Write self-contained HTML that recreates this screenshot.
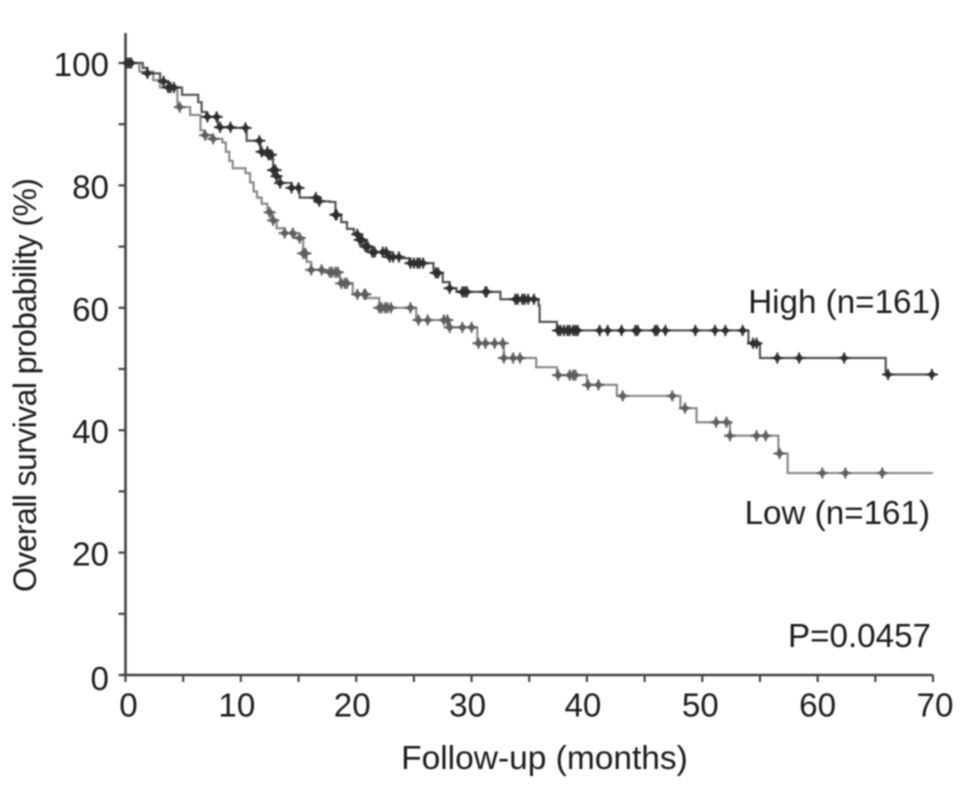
<!DOCTYPE html>
<html>
<head>
<meta charset="utf-8">
<style>
html,body{margin:0;padding:0;background:#fff;width:969px;height:788px;overflow:hidden}
svg{display:block;filter:blur(0.9px)}
text{font-family:"Liberation Sans",sans-serif;font-size:33.2px;fill:#1c1c1c}
</style>
</head>
<body>
<svg id="chart" width="969" height="788" viewBox="0 0 969 788" xmlns="http://www.w3.org/2000/svg">
<rect width="969" height="788" fill="#fff"/>
<g id="axes"></g>
<g id="series"></g>
<text transform="rotate(-90 36 385)" x="36" y="385" text-anchor="middle" textLength="414" style="font-size:32px">Overall survival probability (%)</text>
<text x="544.5" y="769" text-anchor="middle" style="font-size:33.5px">Follow-up (months)</text>
<text x="941" y="313" text-anchor="end">High (n=161)</text>
<text x="930" y="524" text-anchor="end">Low (n=161)</text>
<text x="931" y="647" text-anchor="end">P=0.0457</text>
</svg>
<script>
const xTickLabels = [0, 10, 20, 30, 40, 50, 60, 70];
const yTickLabels = [0, 20, 40, 60, 80, 100];
const xMinorTicks = [5, 15, 25, 35, 45, 55, 65];
const yMinorTicks = [10, 30, 50, 70, 90];

const highTimes = [0, 1.5, 1.9, 3.0, 3.7, 4.9, 6.3, 6.6, 7.0, 8.0, 9.2, 10.5, 11.7, 12.4, 12.8, 13.1, 13.4, 14.4, 15.1, 16.7, 17.7, 18.2, 18.7, 19.2, 19.8, 20.3, 20.8, 21.4, 22.9, 23.8, 24.6, 26.7, 27.5, 28.1, 28.7, 32.5, 35.8, 35.9, 37.4, 54.0, 54.8, 55.0, 65.9];
const highSurvival = [100, 99.2, 98.3, 97, 96, 94.8, 93.6, 92, 91.2, 89.5, 89.4, 87.3, 85.5, 85, 82.5, 81.5, 80.4, 79.6, 78, 77.4, 77.3, 75.2, 74, 72.9, 72, 71.1, 70, 69.1, 68.3, 68.1, 67.3, 65.7, 64.2, 63.2, 62.6, 61.4, 60.4, 57.7, 56.3, 54.2, 53.9, 51.8, 49.1];
const highCensored = [0.1, 0.3, 0.5, 1.9, 3.3, 3.7, 3.9, 4.2, 7.1, 7.9, 8.2, 9.1, 10.4, 11.6, 11.8, 12.3, 12.4, 12.6, 12.8, 13, 13.1, 13.4, 14.4, 15, 16.5, 16.8, 18.2, 18.3, 20.1, 20.3, 20.5, 20.8, 21, 21.4, 21.6, 22.3, 22.6, 22.9, 23.2, 23.7, 24.7, 25, 25.3, 25.5, 25.8, 26.9, 27.1, 28.1, 29.2, 29.4, 29.6, 31.2, 31.3, 33.8, 34, 34.4, 34.6, 34.9, 35.4, 37.5, 37.7, 38, 38.3, 38.5, 38.8, 39, 39.2, 41.1, 41.8, 43, 44.2, 44.4, 45.9, 46.1, 46.8, 49.4, 51.1, 52, 53.5, 54.4, 54.7, 56.5, 58.4, 62.3, 66.1, 69.9];

const lowTimes = [0, 1.2, 2.4, 3.0, 4.5, 5.6, 6.5, 6.8, 7.6, 8.4, 8.7, 9.0, 9.3, 10.4, 10.8, 11.1, 11.4, 11.8, 12.3, 12.7, 13.1, 13.8, 14.7, 15.4, 15.7, 16.1, 17.1, 18.6, 19.7, 20.9, 22, 25.2, 28.1, 30.5, 32.8, 35.6, 37.4, 40, 42.6, 48.1, 49.5, 52.4, 56.6, 57.4];
const lowSurvival = [100, 98.6, 97.2, 96, 92.8, 91.5, 89, 88.2, 87.6, 87, 85.5, 84, 82.8, 82, 80.5, 79, 78, 77, 75.6, 74.3, 73, 72.2, 71.4, 68.9, 67.5, 66.2, 65.8, 64, 62.2, 61.6, 60, 58, 56.8, 54.2, 51.8, 50.3, 49, 47.4, 45.6, 43.6, 41.3, 39.1, 36.2, 33];
const lowCensored = [4.7, 6.9, 7.6, 12.5, 12.8, 13.8, 14.5, 15.1, 15.4, 15.6, 16.1, 17, 17.7, 17.9, 18.2, 18.4, 18.7, 19, 19.2, 20.1, 20.7, 20.8, 22, 22.2, 22.5, 22.7, 23, 24.7, 25.4, 26.2, 27.6, 27.9, 28.1, 29.2, 30, 30.6, 31.2, 32, 32.7, 32.8, 33.6, 34.2, 37.5, 38.5, 38.8, 39, 40.1, 41, 43.1, 47.4, 48.5, 51.2, 52.1, 52.4, 54.7, 55.5, 56.7, 60.4, 62.4, 65.6];

const NS = 'http://www.w3.org/2000/svg';
const X0 = 125.5, X1 = 933, Y0 = 675, Y100 = 63;
const xScale = t => X0 + (t / 70) * (X1 - X0);
const yScale = s => Y0 - (s / 100) * (Y0 - Y100);
const axes = document.getElementById('axes');
const series = document.getElementById('series');

function survivalAt(times, values, t) {
  let v = values[0];
  for (let i = 0; i < times.length; i++) { if (times[i] <= t) v = values[i]; }
  return v;
}
function line(x1, y1, x2, y2, w) {
  const l = document.createElementNS(NS, 'line');
  l.setAttribute('x1', x1); l.setAttribute('y1', y1);
  l.setAttribute('x2', x2); l.setAttribute('y2', y2);
  l.setAttribute('stroke', '#444');
  l.setAttribute('stroke-width', w);
  return l;
}

const yAxisLine = line(X0, 33, X0, Y0 + 1, 2.6);


axes.appendChild(yAxisLine);
const xAxisLine = line(X0 - 4, Y0, X1, Y0, 2.6);


axes.appendChild(xAxisLine);

xTickLabels.concat(xMinorTicks).forEach(v => {
  const t = line(xScale(v), Y0, xScale(v), Y0 + 7, 2.2);
  
  
  axes.appendChild(t);
});
yTickLabels.concat(yMinorTicks).forEach(v => {
  const t = line(X0 - 7, yScale(v), X0, yScale(v), 2.2);
  
  
  axes.appendChild(t);
});
function xLabelNudge(v) {
  if (v <= 0) return 3;
  if (v >= 70) return 2;
  if (v >= 60) return 0;
  if (v >= 50) return -2;
  return -4;
}
xTickLabels.forEach(v => {
  const t = document.createElementNS(NS, 'text');
  t.setAttribute('x', xScale(v) + xLabelNudge(v));
  t.setAttribute('y', 716.5);
  t.setAttribute('text-anchor', 'middle');
  
  
  t.textContent = v;
  axes.appendChild(t);
});
yTickLabels.forEach(v => {
  const t = document.createElementNS(NS, 'text');
  t.setAttribute('x', 109);
  t.setAttribute('y', yScale(v) + (v === 0 ? 15 : 13));
  t.setAttribute('text-anchor', 'end');
  
  
  t.textContent = v;
  axes.appendChild(t);
});

function drawCurve(times, values, censored, color, markColor) {
  let d = 'M' + xScale(times[0]) + ' ' + yScale(values[0]);
  for (let i = 1; i < times.length; i++) {
    d += 'H' + xScale(times[i]) + 'V' + yScale(values[i]);
  }
  d += 'H' + xScale(70);
  const p = document.createElementNS(NS, 'path');
  p.setAttribute('d', d);
  p.setAttribute('fill', 'none');
  p.setAttribute('stroke', color);
  p.setAttribute('stroke-width', 2.2);
  return { path: p, marks: censored.map(t => {
    const cx = xScale(t), cy = yScale(survivalAt(times, values, t));
    const m = document.createElementNS(NS, 'path');
    m.setAttribute('d', 'M' + (cx - 6) + ' ' + cy + 'H' + (cx + 6) + 'M' + cx + ' ' + (cy - 5.5) + 'V' + (cy + 5.5) +
      'M' + (cx - 3) + ' ' + cy + 'L' + cx + ' ' + (cy - 3) + 'L' + (cx + 3) + ' ' + cy + 'L' + cx + ' ' + (cy + 3) + 'Z');
    m.setAttribute('fill', markColor);
    m.setAttribute('stroke', markColor);
    m.setAttribute('stroke-width', 2);
    return m;
  }) };
}

const low = drawCurve(lowTimes, lowSurvival, lowCensored, '#8a8a8a', '#5e5e5e');


series.appendChild(low.path);
low.marks.forEach(m => {
  
  
  series.appendChild(m);
});

const high = drawCurve(highTimes, highSurvival, highCensored, '#555', '#2e2e2e');


series.appendChild(high.path);
high.marks.forEach(m => {
  
  
  series.appendChild(m);
});
</script>
</body>
</html>
